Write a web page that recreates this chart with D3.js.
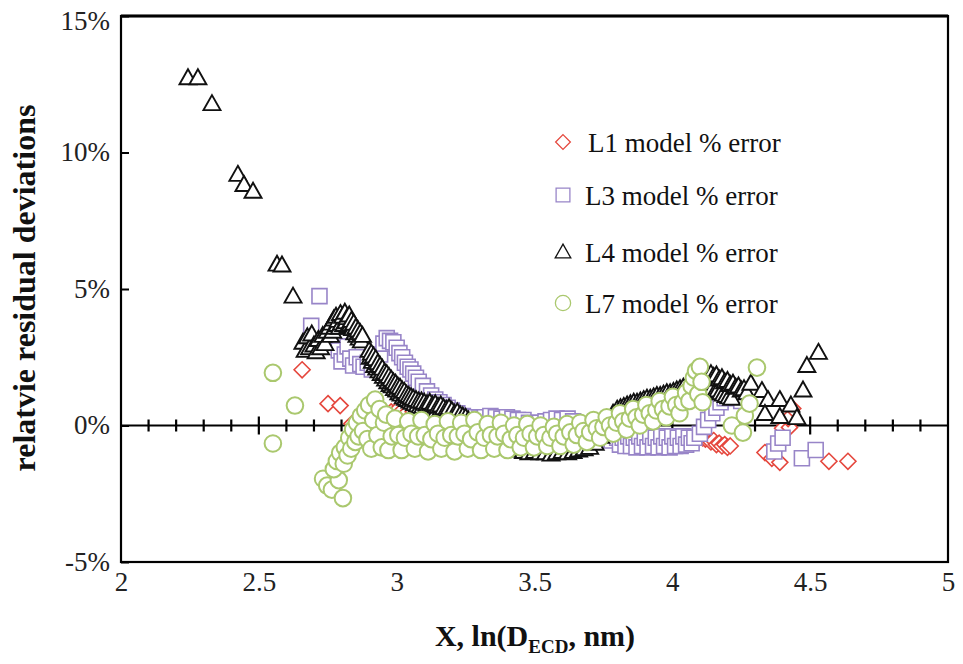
<!DOCTYPE html>
<html>
<head>
<meta charset="utf-8">
<script src="https://cdn.jsdelivr.net/npm/d3@7"></script>
<style>
  body { margin: 0; background: #fff; }
  svg { display: block; }
  svg text { font-family: "Liberation Serif", "Times New Roman", Times, "DejaVu Serif", serif; }
</style>
</head>
<body>
<svg width="963" height="664"></svg>
<script>
var FONT = "'Liberation Serif', 'Times New Roman', Times, 'DejaVu Serif', serif";

var svg = d3.select("svg"),
	width = +svg.attr("width"),
	height = +svg.attr("height");

svg.attr("font-family", FONT);

// values: [ln(D), % error]
var l1_error = [
	[2.657,2.04],[2.751,0.80],[2.795,0.73],[2.838,0.07],
	[2.860,0.15],[2.880,0.25],[2.900,0.30],[2.920,0.35],[2.940,0.40],[2.960,0.45],[2.980,0.50],[3.000,0.55],
	[3.020,0.55],[3.040,0.50],[3.060,0.50],[3.080,0.45],[3.100,0.40],[3.120,0.30],[3.140,0.20],[3.160,0.10],
	[3.180,0.00],[3.200,-0.05],[3.240,-0.15],[3.280,-0.20],[3.320,-0.25],[3.360,-0.30],[3.400,-0.30],[3.440,-0.35],
	[3.480,-0.35],[3.520,-0.35],[3.560,-0.35],[3.600,-0.35],[3.640,-0.30],[3.680,-0.30],[3.720,-0.40],[3.760,-0.50],
	[3.800,-0.55],[3.840,-0.60],[3.880,-0.60],[3.920,-0.60],[3.960,-0.60],[4.000,-0.60],[4.040,-0.60],[4.070,-0.55],
	[4.100,-0.30],[4.110,-0.45],[4.120,-0.50],[4.130,-0.45],[4.140,-0.60],[4.150,-0.55],[4.160,-0.70],[4.170,-0.65],
	[4.180,-0.75],[4.190,-0.70],[4.200,-0.80],[4.210,-0.75],
	[4.336,-0.99],[4.361,-1.20],[4.390,-1.35],[4.400,-0.10],[4.425,-0.07],[4.420,0.25],[4.437,0.62],
	[4.568,-1.31],[4.637,-1.31]
];

var l3_error = [
	[2.690,3.65],[2.720,4.74],
	[2.790,2.75],[2.800,2.35],[2.812,2.60],[2.822,2.90],[2.832,2.45],[2.842,2.20],[2.855,2.50],[2.868,2.25],
	[2.880,2.15],[2.895,2.30],[2.910,2.05],[2.925,2.20],[2.940,2.60],[2.952,3.00],[2.964,3.20],[2.976,3.10],
	[2.988,3.05],[3.000,2.85],[3.010,2.65],[3.020,2.50],[3.030,2.30],[3.040,2.15],[3.050,2.05],[3.060,1.90],
	[3.070,1.75],[3.080,1.60],[3.095,1.45],[3.110,1.25],[3.125,1.10],[3.140,0.95],[3.155,0.85],[3.170,0.75],
	[3.185,0.65],[3.200,0.55],[3.220,0.45],[3.240,0.35],[3.260,0.30],
	[3.280,0.30],[3.300,0.25],[3.320,0.30],[3.340,0.35],[3.360,0.30],[3.380,0.25],[3.400,0.30],[3.420,0.25],
	[3.440,0.20],[3.460,0.20],[3.480,0.10],[3.500,0.05],[3.520,0.10],[3.540,0.15],[3.560,0.20],[3.580,0.25],
	[3.600,0.20],[3.620,0.25],[3.640,0.15],[3.660,0.00],[3.680,-0.15],[3.700,-0.30],[3.720,-0.40],[3.740,-0.45],
	[3.760,-0.50],[3.780,-0.55],[3.800,-0.45],[3.810,-0.70],[3.820,-0.45],[3.830,-0.75],[3.840,-0.40],[3.850,-0.75],
	[3.860,-0.45],[3.870,-0.80],[3.880,-0.40],[3.890,-0.75],[3.900,-0.45],[3.910,-0.80],[3.920,-0.40],[3.930,-0.75],
	[3.940,-0.45],[3.950,-0.80],[3.960,-0.40],[3.970,-0.75],[3.980,-0.45],[3.990,-0.80],[4.000,-0.40],[4.010,-0.75],
	[4.020,-0.45],[4.030,-0.75],[4.040,-0.40],[4.050,-0.70],[4.060,-0.45],[4.070,-0.65],
	[4.080,-0.45],[4.100,-0.30],[4.115,-0.05],[4.130,0.20],[4.145,0.45],[4.160,0.65],[4.175,0.85],[4.190,1.00],
	[4.205,1.10],[4.220,1.20],[4.235,1.05],[4.250,0.90],
	[4.370,-0.95],[4.384,-0.66],[4.400,-0.45],[4.470,-1.20],[4.520,-0.90]
];

var l4_error = [
	[2.243,12.74],[2.279,12.74],[2.330,11.79],[2.424,9.20],[2.446,8.83],[2.479,8.58],[2.566,5.91],[2.584,5.88],[2.624,4.74],
	[2.660,3.05],[2.668,2.75],[2.676,3.25],[2.684,2.85],[2.692,3.35],[2.700,2.95],[2.708,2.70],[2.716,3.15],
	[2.724,2.85],[2.732,3.30],[2.740,3.00],[2.748,3.45],
	[2.756,3.60],[2.760,3.30],[2.764,3.75],[2.768,3.45],[2.772,3.90],[2.776,3.60],[2.780,4.00],[2.784,3.70],
	[2.788,3.85],[2.792,3.60],[2.796,4.10],[2.800,3.75],[2.804,4.00],[2.808,3.70],[2.812,4.15],[2.816,3.80],
	[2.820,3.95],[2.824,3.65],[2.828,4.05],[2.832,3.70],[2.836,3.85],[2.840,3.55],[2.844,3.75],[2.848,3.40],
	[2.852,3.60],[2.856,3.30],[2.860,3.50],[2.864,3.20],[2.868,3.40],[2.872,3.10],[2.876,3.30],
	[2.900,2.75],[2.904,2.50],[2.908,2.65],[2.912,2.35],[2.916,2.55],[2.920,2.20],[2.924,2.45],[2.928,2.10],
	[2.932,2.30],[2.936,2.00],[2.940,2.20],[2.944,1.90],[2.948,2.10],[2.952,1.80],[2.956,1.95],[2.960,1.70],
	[2.964,1.90],[2.968,1.60],[2.972,1.80],[2.976,1.50],[2.980,1.70],[2.984,1.45],[2.988,1.60],[2.992,1.35],
	[2.996,1.55],[3.000,1.30],[3.004,1.45],[3.008,1.20],[3.012,1.40],[3.016,1.15],[3.020,1.30],[3.024,1.05],
	[3.028,1.25],[3.032,1.00],[3.036,1.15],[3.040,0.95],[3.044,1.10],[3.048,0.90],[3.052,1.05],[3.056,0.85],
	[3.060,1.00],[3.065,0.80],[3.070,0.95],[3.075,0.75],[3.080,0.90],[3.085,0.70],[3.090,0.90],[3.095,0.70],
	[3.100,0.85],[3.105,0.65],[3.110,0.80],[3.115,0.60],[3.120,0.85],[3.125,0.60],[3.130,0.75],[3.135,0.55],
	[3.140,0.80],[3.145,0.55],[3.150,0.70],[3.155,0.50],[3.160,0.75],[3.165,0.45],[3.170,0.65],[3.175,0.45],
	[3.180,0.60],[3.185,0.40],[3.190,0.65],[3.195,0.35],[3.200,0.55],[3.210,0.45],[3.220,0.50],[3.230,0.40],
	[3.240,0.35],[3.250,0.30],[3.260,0.20],[3.270,0.10],[3.280,0.00],[3.290,-0.10],[3.300,-0.20],
	[3.320,-0.35],[3.340,-0.50],[3.360,-0.60],[3.380,-0.70],[3.400,-0.80],[3.420,-0.85],[3.440,-0.90],[3.460,-0.95],
	[3.480,-1.00],[3.500,-0.95],[3.520,-1.00],[3.540,-1.00],[3.560,-1.05],[3.580,-1.00],[3.600,-0.95],[3.620,-1.00],
	[3.640,-0.95],[3.660,-0.90],[3.680,-0.85],[3.700,-0.80],[3.720,-0.65],[3.740,-0.40],[3.755,-0.10],[3.770,0.20],
	[3.785,0.45],
	[3.800,0.60],[3.812,0.65],[3.824,0.70],[3.836,0.75],[3.848,0.80],[3.860,0.85],[3.872,0.85],[3.884,0.90],
	[3.896,0.95],[3.908,1.00],[3.920,1.00],[3.932,1.05],[3.944,1.10],[3.956,1.10],[3.968,1.15],[3.980,1.20],
	[3.992,1.20],[4.004,1.25],[4.016,1.30],[4.028,1.35],[4.040,1.40],[4.052,1.40],[4.064,1.45],[4.076,1.50],
	[4.088,1.55],[4.100,1.60],[4.105,1.30],[4.110,1.70],[4.115,1.35],[4.120,1.80],[4.125,1.40],[4.130,1.75],
	[4.135,1.30],[4.140,1.90],[4.145,1.35],[4.150,1.80],[4.155,1.25],[4.160,1.85],[4.165,1.30],[4.170,1.70],
	[4.175,1.20],[4.180,1.75],[4.185,1.15],[4.190,1.60],[4.195,1.10],[4.200,1.65],[4.205,1.05],[4.210,1.50],
	[4.215,1.00],[4.220,1.55],[4.230,1.40],[4.240,1.45],[4.250,1.30],[4.260,1.35],[4.270,1.20],
	[4.285,1.55],[4.325,1.28],[4.347,0.95],[4.336,0.44],[4.390,0.95],[4.390,0.33],[4.430,0.75],[4.452,0.29],
	[4.474,1.30],[4.488,2.20],[4.530,2.68]
];

var l7_error = [
	[2.551,1.93],[2.631,0.73],[2.551,-0.66],
	[2.733,-1.95],[2.748,-2.20],[2.765,-2.35],[2.805,-2.66],[2.790,-2.00],[2.772,-1.60],[2.783,-1.30],[2.795,-1.00],
	[2.808,-1.40],[2.812,-0.80],[2.822,-1.10],[2.828,-0.45],[2.835,-0.85],[2.842,-0.15],[2.850,-0.60],[2.856,0.10],
	[2.862,-0.40],[2.870,0.35],[2.878,-0.20],[2.886,0.55],[2.894,-0.50],[2.900,0.75],[2.908,-0.85],[2.915,0.20],
	[2.922,0.95],[2.930,-0.35],[2.938,0.60],[2.946,-0.80],[2.954,0.10],[2.962,0.40],
	[2.970,-0.90],[2.982,-0.40],[2.994,0.25],[3.006,-0.35],[3.018,-0.90],[3.030,-0.45],[3.042,0.15],[3.054,-0.30],
	[3.066,-0.85],[3.078,-0.40],[3.090,0.20],[3.102,-0.35],[3.114,-0.95],[3.126,-0.50],[3.138,0.05],[3.150,-0.30],
	[3.162,-0.85],[3.174,-0.45],[3.186,0.15],[3.198,-0.35],[3.210,-0.95],[3.222,-0.40],[3.234,0.10],[3.246,-0.30],
	[3.258,-0.85],[3.270,-0.50],[3.282,0.20],[3.294,-0.25],[3.306,-0.90],[3.318,-0.45],[3.330,0.05],[3.342,-0.35],
	[3.354,-0.85],[3.366,-0.40],[3.378,0.10],[3.390,-0.30],[3.402,-0.90],[3.414,-0.50],[3.426,0.00],[3.438,-0.35],
	[3.450,-0.80],[3.462,-0.45],[3.474,0.05],[3.486,-0.30],[3.498,-0.80],[3.510,-0.40],[3.522,0.00],[3.534,-0.35],
	[3.546,-0.75],[3.558,-0.45],[3.570,-0.05],[3.582,-0.30],[3.594,-0.75],[3.606,-0.40],[3.618,0.05],[3.630,-0.25],
	[3.642,-0.70],[3.654,-0.35],[3.666,0.10],[3.678,-0.20],[3.690,-0.60],[3.702,-0.25],[3.714,0.20],[3.726,-0.10],
	[3.738,-0.45],[3.750,-0.05],[3.762,0.30],[3.774,0.00],[3.786,-0.30],[3.798,0.10],[3.810,0.45],[3.822,0.15],
	[3.834,-0.15],[3.846,0.25],[3.858,0.60],[3.870,0.30],[3.882,0.00],[3.894,0.40],[3.906,0.75],[3.918,0.45],
	[3.930,0.15],[3.942,0.55],[3.954,0.90],[3.966,0.60],[3.978,0.30],[3.990,0.70],[4.002,1.05],[4.014,0.75],
	[4.026,0.45],[4.038,0.85],[4.050,1.20],[4.062,0.90],[4.070,1.45],[4.078,1.75],[4.086,2.00],[4.094,1.15],
	[4.100,2.15],[4.106,1.60],[4.110,0.85],
	[4.216,0.00],[4.256,-0.26],[4.263,0.36],[4.280,0.80],[4.307,2.12]
];

var legend_labels = ["L1 model % error", "L3 model % error", "L4 model % error", "L7 model % error"];
var x_ticks = [2, 2.5, 3, 3.5, 4, 4.5, 5];
var y_ticks = [-5, 0, 5, 10, 15];

var x = d3.scaleLinear().domain([2, 5]).range([121, 948]);
var y = d3.scaleLinear().domain([-5, 15]).range([562, 16]);

var series = [
	{name: "l1", data: l1_error, shape: "diamond", color: "#e5473d", width: 1.6, label: legend_labels[0]},
	{name: "l3", data: l3_error, shape: "square", color: "#9885c8", width: 1.6, label: legend_labels[1]},
	{name: "l4", data: l4_error, shape: "triangle", color: "#111", width: 1.9, label: legend_labels[2]},
	{name: "l7", data: l7_error, shape: "circle", color: "#aac86e", width: 2, label: legend_labels[3]}
];

function marker(sel, shape) {
	if (shape == "circle") {
		return sel.append("circle").attr("r", 8.3);
	}
	var d;
	if (shape == "diamond") d = "M0,-8L8,0L0,8L-8,0Z";
	else if (shape == "square") d = "M-7.5,-7.5h15v15h-15Z";
	else d = "M0,-8.5L8.5,6.5L-8.5,6.5Z";
	return sel.append("path").attr("d", d);
}

// zero line with crossing ticks
var zero = svg.append("g").attr("stroke", "#000").attr("stroke-width", 2.2);
zero.append("line")
	.attr("x1", x(2)).attr("x2", x(5))
	.attr("y1", y(0)).attr("y2", y(0));

zero.selectAll(".zt")
	.data(x.ticks(30).filter(function(d) { return d > 2 && d < 5; }))
	.enter().append("line")
	.attr("x1", function(d) { return x(d); })
	.attr("x2", function(d) { return x(d); })
	.attr("y1", function(d) { var major = Math.abs(d * 2 - Math.round(d * 2)) < 1e-6; return y(0) - (major ? 9 : 6); })
	.attr("y2", function(d) { var major = Math.abs(d * 2 - Math.round(d * 2)) < 1e-6; return y(0) + (major ? 9 : 6); });

// series, L7 drawn last (on top)
series.forEach(function(s) {
	var g = svg.append("g")
		.attr("class", "series-" + s.name)
		.attr("fill", "#fff")
		.attr("stroke", s.color)
		.attr("stroke-width", s.width);
	g.selectAll("g")
		.data(s.data).enter()
		.append("g")
		.attr("transform", function(d) { return "translate(" + x(d[0]) + "," + y(d[1]) + ")"; })
		.each(function() { marker(d3.select(this), s.shape); });
});

// frame
svg.append("rect")
	.attr("x", x(2)).attr("y", y(15))
	.attr("width", x(5) - x(2))
	.attr("height", y(-5) - y(15))
	.attr("fill", "none").attr("stroke", "#000").attr("stroke-width", 2.2);
svg.append("line")
	.attr("x1", x(2)).attr("x2", x(5))
	.attr("y1", y(15)).attr("y2", y(15))
	.attr("stroke", "#000").attr("stroke-width", 3);

// axes
var yAxis = svg.append("g")
	.attr("transform", "translate(" + x(2) + ",0)")
	.call(d3.axisLeft(y)
		.tickValues(y_ticks)
		.tickFormat(function(d) { return d + "%"; })
		.tickSizeInner(-8)
		.tickSizeOuter(0)
		.tickPadding(11));
yAxis.attr("font-family", FONT).attr("font-size", 27);
yAxis.select(".domain").remove();
yAxis.selectAll("line").attr("stroke", "#000").attr("stroke-width", 2);
yAxis.selectAll("text").attr("fill", "#222").attr("dy", function(d) { return d == 15 ? "0.5em" : "0.3em"; });

var xAxis = svg.append("g")
	.attr("transform", "translate(0," + y(-5) + ")")
	.call(d3.axisBottom(x)
		.tickValues(x_ticks)
		.tickFormat(function(d) { return d; })
		.tickSize(0)
		.tickPadding(10));
xAxis.attr("font-family", FONT).attr("font-size", 27);
xAxis.select(".domain").remove();
xAxis.selectAll("text").attr("fill", "#222");

// axis titles
svg.append("text")
	.attr("transform", "translate(35,288) rotate(-90)")
	.attr("text-anchor", "middle")
	.attr("font-family", FONT)
	.attr("font-weight", "bold")
	.attr("font-size", 32)
	.attr("fill", "#111")
	.text("relatvie residual deviations");

var xt = svg.append("text")
	.attr("x", 535).attr("y", 646)
	.attr("text-anchor", "middle")
	.attr("font-family", FONT)
	.attr("font-weight", "bold")
	.attr("font-size", 30)
	.attr("fill", "#111");
xt.append("tspan").text("X, ln(D");
xt.append("tspan").attr("dy", 7).attr("font-size", 19).text("ECD");
xt.append("tspan").attr("dy", -7).text(", nm)");

// legend
var legend_y = [142, 195, 252, 303];
var legend = svg.append("g").attr("font-family", FONT).attr("font-size", 27).attr("fill", "#111");
series.forEach(function(s, i) {
	var item = legend.append("g").attr("transform", "translate(563," + legend_y[i] + ")");
	marker(item, s.shape)
		.attr("fill", "#fff")
		.attr("stroke", s.color)
		.attr("stroke-width", 1.4)
		.attr("transform", "scale(0.92)");
	item.append("text")
		.attr("x", i == 0 ? 25 : 22)
		.attr("y", 10)
		.text(s.label);
});
</script>
</body>
</html>
